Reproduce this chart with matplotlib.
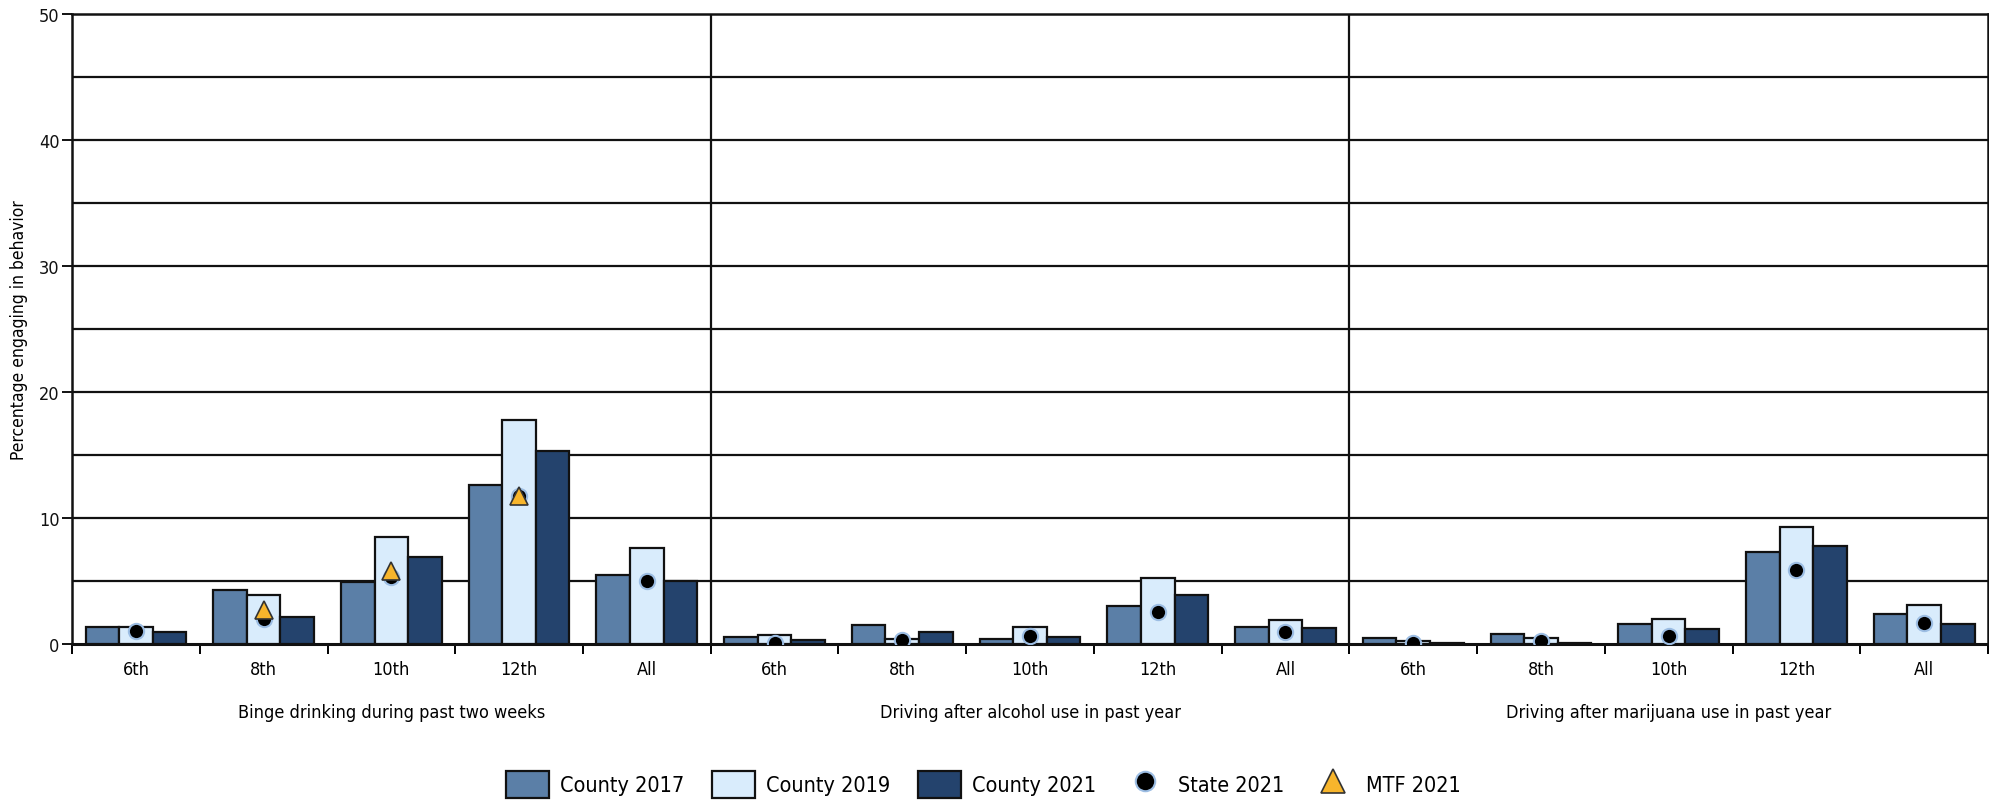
import matplotlib
matplotlib.use("Agg")
import matplotlib.pyplot as plt
from matplotlib import font_manager
from matplotlib.patches import Patch
from matplotlib.lines import Line2D
from matplotlib.transforms import blended_transform_factory
import numpy as np

# ---------------- data ----------------
grades = ["6th", "8th", "10th", "12th", "All"]
behaviors = ["Binge drinking during past two weeks",
             "Driving after alcohol use in past year",
             "Driving after marijuana use in past year"]

county_2017 = [1.3, 4.3, 4.9, 12.6, 5.5,
               0.55, 1.5, 0.4, 3.0, 1.35,
               0.5, 0.8, 1.6, 7.3, 2.4]
county_2019 = [1.35, 3.9, 8.5, 17.8, 7.6,
               0.7, 0.4, 1.35, 5.25, 1.9,
               0.25, 0.5, 2.0, 9.3, 3.05]
county_2021 = [0.95, 2.15, 6.9, 15.3, 5.0,
               0.3, 0.95, 0.55, 3.9, 1.25,
               0.1, 0.1, 1.2, 7.8, 1.6]
state_2021 = [1.0, 2.0, 5.3, 11.7, 5.0,
              0.05, 0.3, 0.65, 2.55, 0.9,
              0.08, 0.2, 0.65, 5.9, 1.65]
mtf_2021 = [None, 2.7, 5.8, 11.7, None,
            None, None, None, None, None,
            None, None, None, None, None]

series_names = ["County 2017", "County 2019", "County 2021", "State 2021", "MTF 2021"]
ylabel = "Percentage engaging in behavior"

# ---------------- style ----------------
names = {f.name for f in font_manager.fontManager.ttflist}
if "Liberation Sans Narrow" in names:
    plt.rcParams["font.family"] = ["Liberation Sans Narrow", "DejaVu Sans"]
    stretch = "normal"
else:
    plt.rcParams["font.family"] = ["DejaVu Sans"]
    stretch = "condensed"

c17 = "#5b7fa7"
c19 = "#d9ecfc"
c21 = "#24436d"

fig = plt.figure(figsize=(19.9, 8.03), dpi=100)
ax = fig.add_axes([0.0362, 0.197, 0.9628, 0.784])

n = len(county_2017)
x = np.arange(n) + 0.5
w = 0.263
kw = dict(edgecolor="#111111", linewidth=1.6, zorder=3)
ax.bar(x - w, county_2017, w, color=c17, **kw)
ax.bar(x, county_2019, w, color=c19, **kw)
ax.bar(x + w, county_2021, w, color=c21, **kw)

ax.plot(x, state_2021, linestyle="none", marker="o", markersize=11,
        markerfacecolor="black", markeredgecolor="#9cbde3", markeredgewidth=1.5, zorder=5)
mx = [xi for xi, v in zip(x, mtf_2021) if v is not None]
mv = [v for v in mtf_2021 if v is not None]
ax.plot(mx, mv, linestyle="none", marker="^", markersize=13,
        markerfacecolor="#f7b52c", markeredgecolor="#333333", markeredgewidth=1.2, zorder=6)

ax.set_xlim(0, n)
ax.set_ylim(0, 50)

# grid every 5
for yv in np.arange(5, 50, 5):
    ax.axhline(yv, color="#111111", linewidth=1.6, zorder=1)
for xv in [5, 10]:
    ax.axvline(xv, color="#111111", linewidth=1.6, zorder=4)

for s in ax.spines.values():
    s.set_color("#111111")
    s.set_linewidth(1.8)
ax.spines["bottom"].set_linewidth(2.2)

ax.set_yticks(np.arange(0, 51, 10))
ax.tick_params(axis="y", length=7, width=1.4, labelsize=13, pad=2, colors="#111111")
ax.set_xticks(np.arange(0, n + 1))
ax.set_xticklabels([])
ax.tick_params(axis="x", which="major", length=7, width=1.4, direction="out")
ax.set_xticks(x, minor=True)
ax.set_xticklabels(grades * 3, minor=True, fontsize=13, fontstretch=stretch)
ax.tick_params(axis="x", which="minor", length=0, pad=12)
for lab in ax.get_yticklabels():
    lab.set_fontstretch(stretch)

ax.set_ylabel(ylabel, fontsize=12.5, labelpad=8, fontstretch=stretch)

tr = blended_transform_factory(ax.transData, fig.transFigure)
for i, b in enumerate(behaviors):
    ax.text(i * 5 + 2.5, 0.112, b, transform=tr, ha="center", va="center",
            fontsize=13, fontstretch=stretch)

handles = [Patch(facecolor=c17, edgecolor="#111111", linewidth=1.6),
           Patch(facecolor=c19, edgecolor="#111111", linewidth=1.6),
           Patch(facecolor=c21, edgecolor="#111111", linewidth=1.6),
           Line2D([], [], linestyle="none", marker="o", markersize=14,
                  markerfacecolor="black", markeredgecolor="#9cbde3", markeredgewidth=1.5),
           Line2D([], [], linestyle="none", marker="^", markersize=17,
                  markerfacecolor="#f7b52c", markeredgecolor="#333333", markeredgewidth=1.2)]
leg = fig.legend(handles, series_names, loc="center", bbox_to_anchor=(0.494, 0.022),
                 ncol=5, frameon=False, fontsize=15.5, handlelength=2.0, handleheight=1.55,
                 columnspacing=1.3, handletextpad=0.5)
for t in leg.get_texts():
    t.set_fontstretch(stretch)

fig.savefig("out.png", dpi=100)
